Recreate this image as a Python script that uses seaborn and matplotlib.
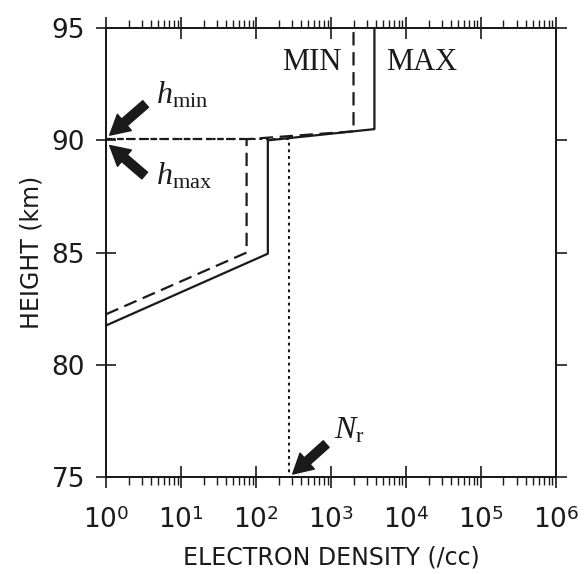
import numpy as np
import pandas as pd
import matplotlib
matplotlib.use("Agg")
import matplotlib.pyplot as plt
import seaborn as sns
from matplotlib.ticker import LogLocator, FixedLocator, NullFormatter

# profile values (density in /cc, height in km)
max_density = [1, 144, 144, 3800, 3800]
max_height = [81.75, 84.95, 90.0, 90.5, 95.0]

min_density = [1, 75, 75, 2000, 2000]
min_height = [82.25, 85.0, 90.05, 90.4, 95.0]

hmin_density = [1, 75]
hmin_height = [90.05, 90.05]

nr_density = [1, 280, 280]
nr_height = [90.05, 90.05, 75.0]

x_ticks = [1, 10, 100, 1e3, 1e4, 1e5, 1e6]
x_ticklabels = ["$10^{%d}$" % i for i in range(7)]
y_ticks = [75, 80, 85, 90, 95]

sns.set_style("ticks")
plt.rcParams['font.family'] = ['DejaVu Sans']
plt.rcParams['mathtext.fontset'] = 'custom'
plt.rcParams['mathtext.rm'] = 'DejaVu Sans'
plt.rcParams['mathtext.it'] = 'Liberation Serif:italic'
plt.rcParams['mathtext.bf'] = 'Liberation Serif'

fig = plt.figure(figsize=(5.87, 5.74), dpi=100)
ax = fig.add_axes([0.1806, 0.169, 0.947 - 0.1806, 0.951 - 0.169])

ink = "#1a1a1a"

def seg(xs, ys, dash=None, lw=1.6):
    df = pd.DataFrame({"x": xs, "y": ys})
    sns.lineplot(data=df, x="x", y="y", sort=False, estimator=None,
                 color=ink, ax=ax, linewidth=lw)
    if dash is not None:
        ax.lines[-1].set_dashes(dash)

seg(max_density, max_height)
seg(min_density, min_height, dash=(6, 3))
seg(hmin_density, hmin_height, dash=(3, 2))
seg(nr_density, nr_height, dash=(1.4, 1.8), lw=1.5)

ax.set_xscale("log")
ax.set_xlim(1, 1e6)
ax.set_ylim(75, 95)

ax.xaxis.set_major_locator(FixedLocator(x_ticks))
ax.set_xticklabels(x_ticklabels)
ax.xaxis.set_minor_locator(LogLocator(base=10, subs=np.arange(2, 10), numticks=20))
ax.xaxis.set_minor_formatter(NullFormatter())
ax.set_yticks(y_ticks)

ax.tick_params(axis="x", which="major", direction="inout", length=16, width=1.2,
               top=True, labelsize=19, pad=14, colors=ink)
ax.tick_params(axis="x", which="minor", direction="out", length=6, width=1.0,
               top=True, colors=ink)
ax.tick_params(axis="y", which="major", direction="inout", length=14, width=1.2,
               right=False, labelsize=19, pad=8, colors=ink)

# right-hand height ticks point outward only
ax_r = ax.twinx()
ax_r.set_ylim(ax.get_ylim())
ax_r.set_yticks(y_ticks)
ax_r.tick_params(axis="y", direction="out", length=8, width=1.2,
                 labelright=False, colors=ink)

for a in (ax, ax_r):
    for s in a.spines.values():
        s.set_linewidth(1.4)
        s.set_color(ink)

ax.set_xlabel("ELECTRON DENSITY (/cc)", fontsize=17, color=ink, labelpad=8)
ax.set_ylabel("HEIGHT (km)", fontsize=17, color=ink, labelpad=6)

ax.text(560, 93.45, "MIN", fontsize=22, fontfamily="Liberation Serif",
        ha="center", va="center", color=ink)
ax.text(16000, 93.45, "MAX", fontsize=22, fontfamily="Liberation Serif",
        ha="center", va="center", color=ink)

arrow = dict(arrowstyle="simple,head_width=1.1,head_length=1.0,tail_width=0.45",
             fc=ink, ec=ink, mutation_scale=14)
ax.annotate("", xy=(1.05, 90.15), xytext=(3.6, 91.7), arrowprops=arrow)
ax.annotate("", xy=(1.05, 89.85), xytext=(3.5, 88.35), arrowprops=arrow)
ax.annotate("", xy=(290, 75.05), xytext=(920, 76.55), arrowprops=arrow)

ax.text(4.6, 92.0, r"$h_{\mathbf{min}}$", fontsize=23, va="center", color=ink)
ax.text(4.6, 88.4, r"$h_{\mathbf{max}}$", fontsize=23, va="center", color=ink)
ax.text(1100, 77.1, r"$N_{\mathbf{r}}$", fontsize=23, va="center", color=ink)

fig.savefig("out.png", dpi=100)
